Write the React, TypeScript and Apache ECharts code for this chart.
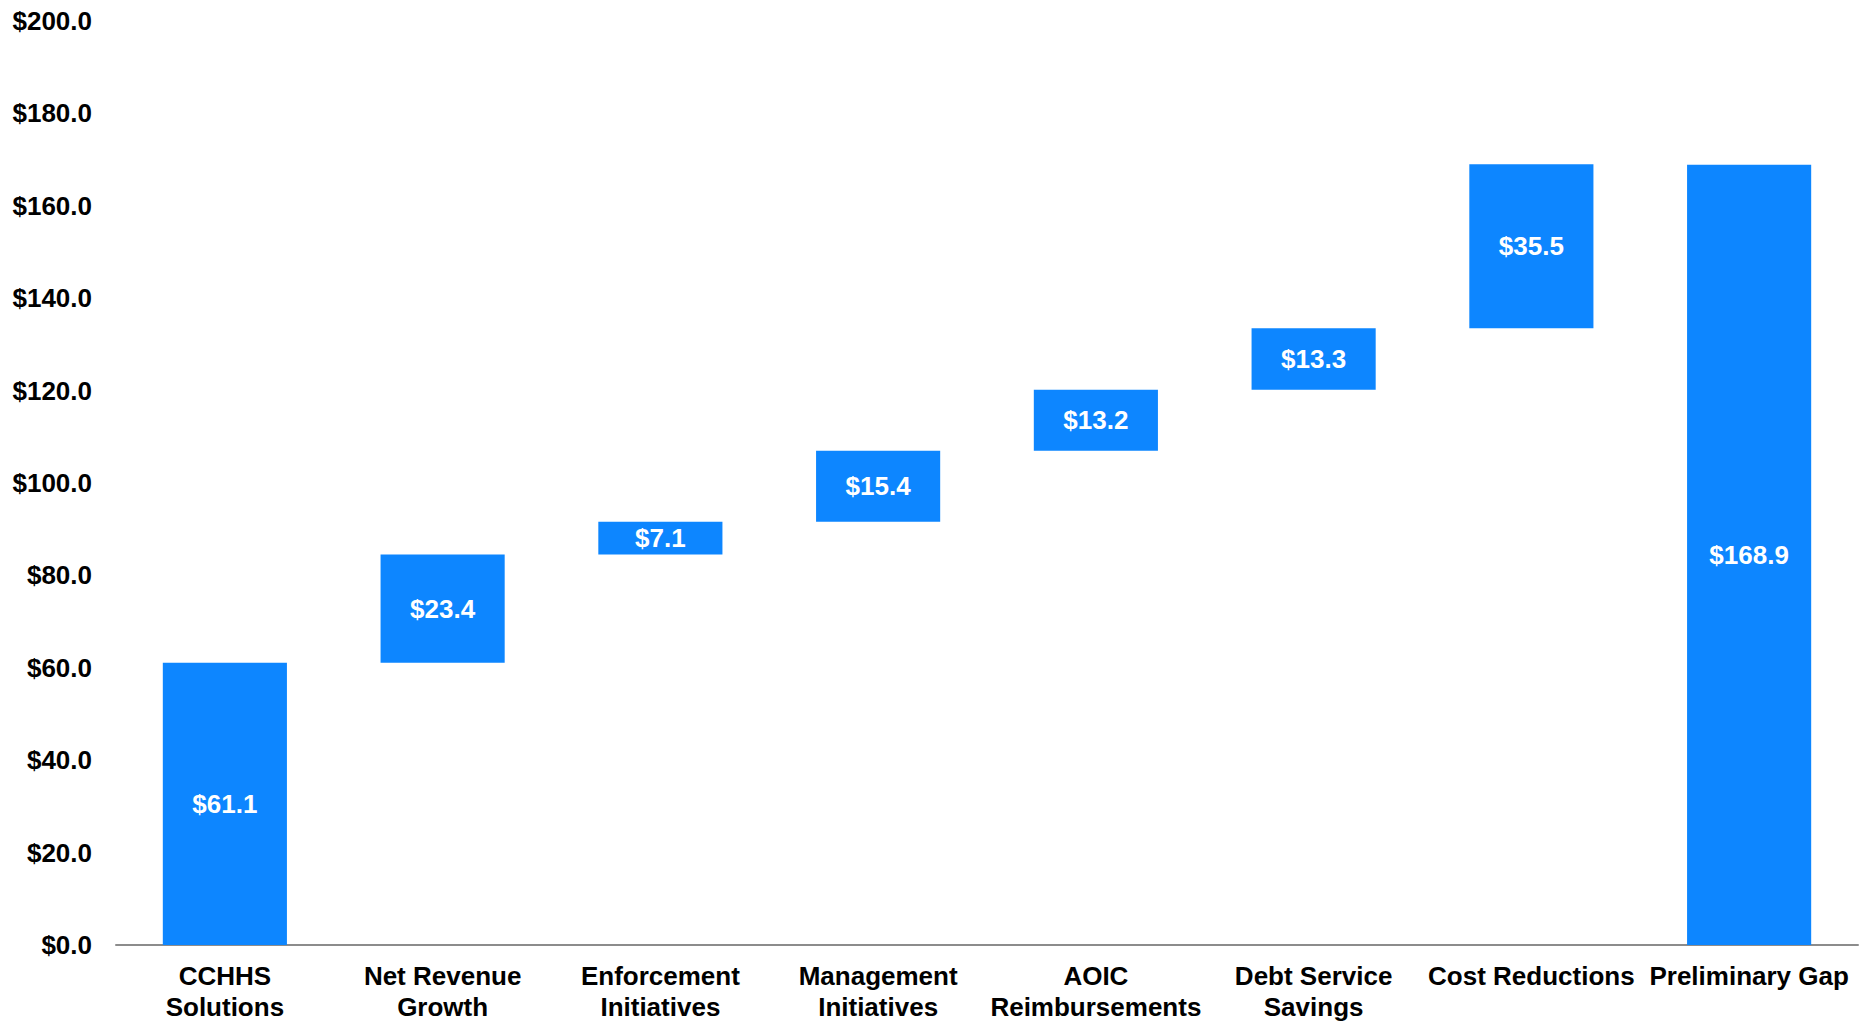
import React, { useEffect, useRef } from "react";
import * as echarts from "echarts";

// Bridge from CCHHS solutions to the preliminary gap ($ millions)
const categories = [
  "CCHHS\nSolutions",
  "Net Revenue\nGrowth",
  "Enforcement\nInitiatives",
  "Management\nInitiatives",
  "AOIC\nReimbursements",
  "Debt Service\nSavings",
  "Cost Reductions",
  "Preliminary Gap",
];
const steps = [61.1, 23.4, 7.1, 15.4, 13.2, 13.3, 35.5];
const total = 168.9;
const yTicks = { min: 0, max: 200, interval: 20 };

const BLUE = "#0D86FF";
const FONT = "'Liberation Sans', Arial, sans-serif";

const fmt = (v: number) => `$${v.toFixed(1)}`;

export default function App() {
  const ref = useRef<HTMLDivElement>(null);

  useEffect(() => {
    if (!ref.current) return;
    const chart = echarts.init(ref.current, undefined, { renderer: "svg" });

    // invisible offsets: each step floats on the running total before it
    const bases: number[] = [];
    let running = 0;
    steps.forEach((s, i) => {
      bases.push(i === 0 ? 0 : running);
      running += s;
    });
    bases.push(0);
    const visible = [...steps, total];

    chart.setOption({
      animation: false,
      grid: { left: 116, right: 16, top: 21, bottom: 72, containLabel: false },
      xAxis: {
        type: "category",
        data: categories,
        axisLine: { lineStyle: { color: "#8c8c8c", width: 2 } },
        axisTick: { show: false },
        axisLabel: {
          interval: 0,
          margin: 15,
          color: "#000",
          fontFamily: FONT,
          fontWeight: "bold",
          fontSize: 26,
          lineHeight: 31,
        },
      },
      yAxis: {
        type: "value",
        min: yTicks.min,
        max: yTicks.max,
        interval: yTicks.interval,
        splitLine: { show: false },
        axisLine: { show: false },
        axisTick: { show: false },
        axisLabel: {
          margin: 24,
          color: "#000",
          fontFamily: FONT,
          fontWeight: "bold",
          fontSize: 26,
          formatter: (v: number) => fmt(v),
        },
      },
      series: [
        {
          type: "bar",
          stack: "w",
          data: bases,
          itemStyle: { color: "transparent" },
          emphasis: { disabled: true },
          silent: true,
          barWidth: "57%",
        },
        {
          type: "bar",
          stack: "w",
          data: visible,
          barWidth: "57%",
          itemStyle: { color: BLUE },
          label: {
            show: true,
            position: "inside",
            color: "#fff",
            fontFamily: FONT,
            fontWeight: "bold",
            fontSize: 26,
            formatter: (p: any) => fmt(p.value),
          },
        },
      ],
    });

    return () => chart.dispose();
  }, []);

  return (
    <div
      ref={ref}
      style={{ position: "fixed", left: 0, top: 0, width: 1874, height: 1022, background: "#fff" }}
    />
  );
}
